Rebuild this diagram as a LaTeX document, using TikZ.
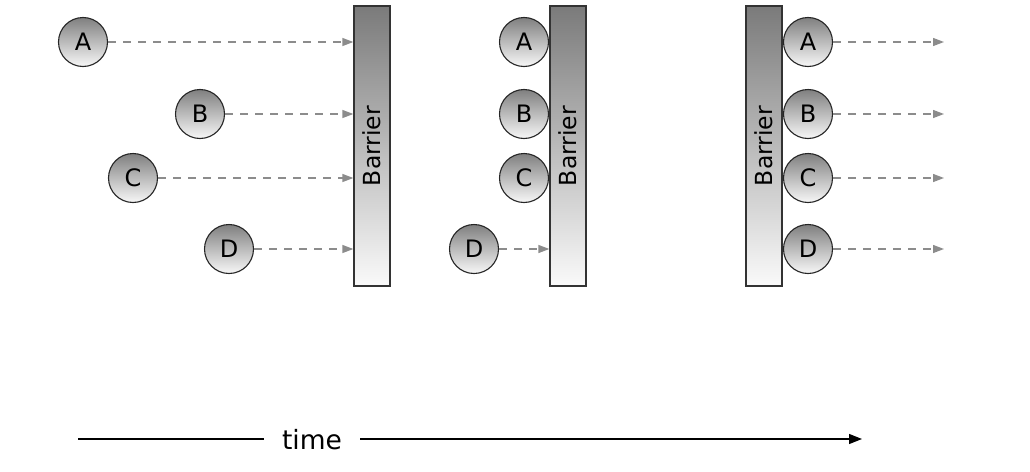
\documentclass[tikz,border=0pt]{standalone}
\usepackage{fontspec}
\setsansfont{DejaVu Sans}
\usetikzlibrary{arrows.meta}
\begin{document}
\begin{tikzpicture}[x=1pt,y=-1pt,
  proc/.style={circle, draw=black!85, line width=1.1pt, minimum size=49pt, inner sep=0pt,
    top color=black!50, bottom color=black!3, font=\sffamily\fontsize{24}{24}\selectfont},
  barrier/.style={draw=black!80, line width=1.3pt, top color=black!52, bottom color=black!2,
    minimum width=36pt, minimum height=280pt, inner sep=0pt},
  btext/.style={rotate=90, font=\sffamily\fontsize{23.5}{23.5}\selectfont, inner sep=0pt},
  flow/.style={draw=black!45, dash pattern=on 8pt off 7pt, line width=1.3pt,
    -{Triangle[length=11pt,width=8pt,fill=black!45]}},
  timeline/.style={draw=black, line width=1.2pt}
]
\useasboundingbox (0,0) rectangle (1030,471);

% Scene 1
\node[barrier] (b1) at (372,146) {};
\node[btext] (t1) at (b1.center) {Barrier};
\node[proc] (A1) at (83,42) {A};
\node[proc] (B1) at (200,114) {B};
\node[proc] (C1) at (133,178) {C};
\node[proc] (D1) at (229,249) {D};
\foreach \n in {A1,B1,C1,D1} \draw[flow] (\n) -- (\n -| b1.west);

% Scene 2
\node[barrier] (b2) at (568,146) {};
\node[btext] (t2) at (b2.center) {Barrier};
\node[proc] (A2) at (524,42) {A};
\node[proc] (B2) at (524,114) {B};
\node[proc] (C2) at (524,178) {C};
\node[proc] (D2) at (474,249) {D};
\draw[flow] (D2) -- (D2 -| b2.west);

% Scene 3
\node[barrier] (b3) at (764,146) {};
\node[btext] (t3) at (b3.center) {Barrier};
\node[proc] (A3) at (808,42) {A};
\node[proc] (B3) at (808,114) {B};
\node[proc] (C3) at (808,178) {C};
\node[proc] (D3) at (808,249) {D};
\coordinate (eA) at (944,42);
\coordinate (eB) at (944,114);
\coordinate (eC) at (944,178);
\coordinate (eD) at (944,249);
\draw[flow] (A3) -- (eA);
\draw[flow] (B3) -- (eB);
\draw[flow] (C3) -- (eC);
\draw[flow] (D3) -- (eD);

% time axis
\coordinate (ts) at (78,439);
\coordinate (te) at (862,439);
\node[font=\sffamily\fontsize{26.5}{26.5}\selectfont, inner xsep=18pt, anchor=base] (time) at (312,449) {time};
\draw[timeline] (ts) -- (ts -| time.west);
\draw[timeline, -{Triangle[length=13pt,width=10pt]}] (te -| time.east) -- (te);
\end{tikzpicture}
\end{document}
